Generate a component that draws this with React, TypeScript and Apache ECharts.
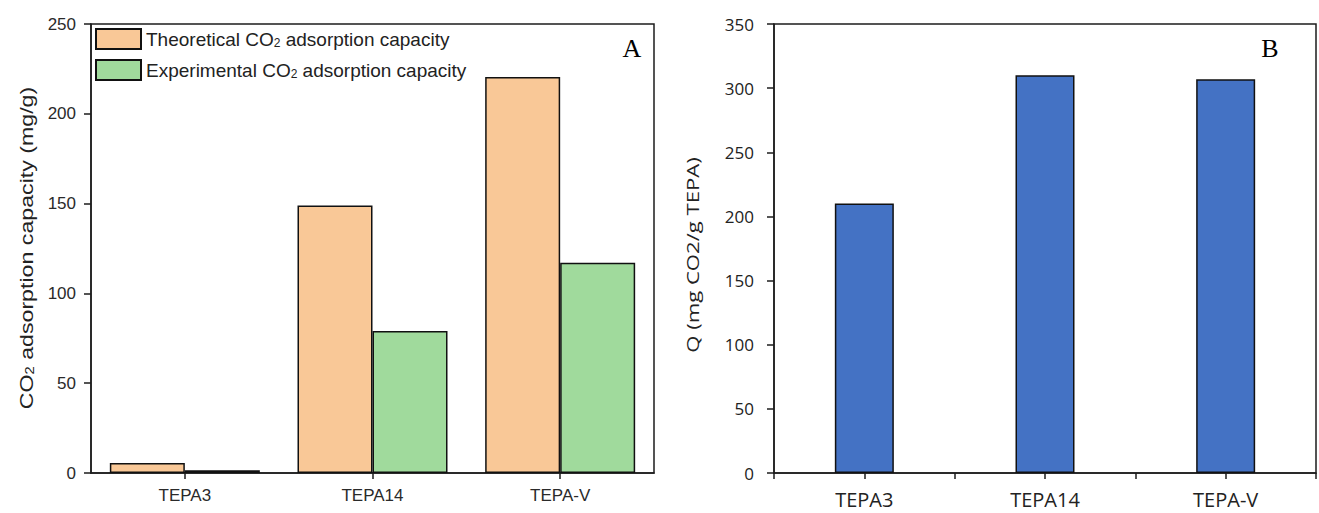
import React, { useEffect, useRef } from "react";
import * as echarts from "echarts";

// Sorbent samples shared by both panels
const categories = ["TEPA3", "TEPA14", "TEPA-V"];

// Panel A: CO2 adsorption capacity (mg/g)
const theoretical = [5.5, 149, 220.5];
const experimental = [1.5, 79, 117];

// Panel B: Q (mg CO2 / g TEPA)
const qValues = [210, 310, 307];

const seriesNames = [
  "Theoretical CO2 adsorption capacity",
  "Experimental CO2 adsorption capacity",
];

const INK = "#1c1c1c";
const SANS = "'Liberation Sans', Arial, sans-serif";
const OPEN = "'Open Sans', 'Noto Sans', sans-serif";

const axisLine = { show: true, onZero: false, lineStyle: { color: INK, width: 1.5 } };

export default function App() {
  const ref = useRef<HTMLDivElement>(null);

  useEffect(() => {
    document.body.style.margin = "0";
    const chart = echarts.init(ref.current!, null, { renderer: "svg" });

    // Panel B uses a numeric x axis so that ticks fall both on sample centres and between samples
    const qPoints = qValues.map((v, i) => [i, v]);

    const option: any = {
      animation: false,
      backgroundColor: "#ffffff",
      grid: [
        { left: 91, top: 24, width: 563, height: 449, show: true, borderColor: INK, borderWidth: 1.5, backgroundColor: "transparent" },
        { left: 774, top: 24, width: 556, height: 449, show: true, borderColor: INK, borderWidth: 1.5, backgroundColor: "transparent" },
      ],
      legend: {
        data: seriesNames,
        orient: "vertical",
        left: 95,
        top: 28,
        padding: 0,
        itemWidth: 45,
        itemHeight: 20,
        itemGap: 9,
        icon: "rect",
        formatter: (name: string) => name.replace("CO2", "CO{sub|2}"),
        textStyle: {
          fontFamily: SANS,
          fontSize: 19,
          color: "#222",
          rich: {
            sub: { fontFamily: SANS, fontSize: 12, color: "#222", padding: [8, 0, 0, 0] },
          },
        },
      },
      xAxis: [
        {
          gridIndex: 0,
          type: "category",
          data: categories,
          axisLine,
          axisTick: { show: true, alignWithLabel: true, length: 6, lineStyle: { color: INK, width: 1.5 } },
          axisLabel: { fontFamily: SANS, fontSize: 17, color: "#2a2a2a", margin: 14 },
        },
        {
          gridIndex: 1,
          type: "value",
          min: -0.5,
          max: 2.5,
          interval: 0.5,
          splitLine: { show: false },
          axisLine,
          axisTick: { show: true, length: 6, lineStyle: { color: INK, width: 1.5 } },
          axisLabel: {
            fontFamily: OPEN,
            fontSize: 20,
            color: "#222",
            margin: 16,
            showMinLabel: true,
            showMaxLabel: true,
            formatter: (v: number) => (Number.isInteger(v) && categories[v] ? categories[v] : ""),
          },
        },
      ],
      yAxis: [
        {
          gridIndex: 0,
          type: "value",
          min: 0,
          max: 250,
          interval: 50,
          splitLine: { show: false },
          axisLine,
          axisTick: { show: true, length: 7, lineStyle: { color: INK, width: 1.5 } },
          axisLabel: { fontFamily: SANS, fontSize: 17, color: "#2a2a2a", margin: 15 },
        },
        {
          gridIndex: 1,
          type: "value",
          min: 0,
          max: 350,
          interval: 50,
          splitLine: { show: false },
          axisLine,
          axisTick: { show: true, length: 7, lineStyle: { color: INK, width: 1.5 } },
          axisLabel: { fontFamily: OPEN, fontSize: 17, color: "#222", margin: 20 },
        },
      ],
      series: [
        {
          name: seriesNames[0],
          type: "bar",
          xAxisIndex: 0,
          yAxisIndex: 0,
          data: theoretical,
          barWidth: 75,
          barGap: "0%",
          itemStyle: { color: "#F9C897", borderColor: "#111", borderWidth: 1.5 },
        },
        {
          name: seriesNames[1],
          type: "bar",
          xAxisIndex: 0,
          yAxisIndex: 0,
          data: experimental,
          barWidth: 75,
          barGap: "0%",
          itemStyle: { color: "#A0DA9C", borderColor: "#111", borderWidth: 1.5 },
        },
        {
          name: "Q",
          type: "bar",
          xAxisIndex: 1,
          yAxisIndex: 1,
          data: qPoints,
          barWidth: 59,
          itemStyle: { color: "#4472C4", borderColor: "#111", borderWidth: 1.5 },
        },
      ],
      graphic: [
        {
          type: "text",
          x: 632,
          y: 48,
          style: { text: "A", fontFamily: "'Liberation Serif', 'Times New Roman', serif", fontSize: 26, fill: "#000", align: "center", verticalAlign: "middle" },
        },
        {
          type: "text",
          x: 1270,
          y: 48,
          style: { text: "B", fontFamily: "'Liberation Serif', 'Times New Roman', serif", fontSize: 26, fill: "#000", align: "center", verticalAlign: "middle" },
        },
        {
          type: "text",
          x: 26,
          y: 248,
          rotation: Math.PI / 2,
          scaleX: 1.22,
          style: {
            text: "CO{sub|2} adsorption capacity (mg/g)",
            fontFamily: SANS,
            fontSize: 19,
            fill: "#222",
            align: "center",
            verticalAlign: "middle",
            rich: { sub: { fontFamily: SANS, fontSize: 12, fill: "#222", padding: [8, 0, 0, 0] } },
          },
        },
        {
          type: "text",
          x: 693,
          y: 255,
          rotation: Math.PI / 2,
          scaleX: 1.3,
          style: {
            text: "Q (mg CO2/g TEPA)",
            fontFamily: OPEN,
            fontSize: 17,
            fill: "#222",
            align: "center",
            verticalAlign: "middle",
          },
        },
      ],
    };

    chart.setOption(option);
    return () => chart.dispose();
  }, []);

  return <div ref={ref} style={{ width: 1319, height: 513 }} />;
}
